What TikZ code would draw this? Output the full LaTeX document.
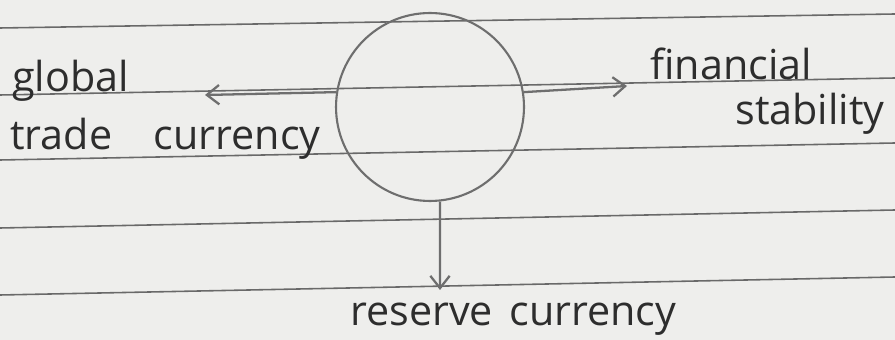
\documentclass[tikz,border=0pt]{standalone}
\usepackage{fontspec}
\setmainfont{Open Sans}
\usetikzlibrary{arrows.meta}
\definecolor{paper}{RGB}{238,238,236}
\definecolor{rule}{RGB}{105,105,105}
\definecolor{pencil}{RGB}{110,110,110}
\definecolor{ink}{RGB}{45,45,45}
\tikzset{
    word/.style={anchor=base west, text=ink, inner sep=0pt, font=\fontsize{23.5}{28}\selectfont},
    link/.style={->, pencil, line width=1.3pt}
}
\begin{document}
\begin{tikzpicture}[>={Straight Barb[length=7pt, width=11pt]}, x=0.02cm, y=-0.02cm]
    % Foglio
    \fill[paper] (0,0) rectangle (895,340);
    \useasboundingbox (0,0) rectangle (895,340);
    % Righe del quaderno
    \foreach \ya/\yb in {28/14, 95/78, 160/143, 228/210, 295/277}
        \draw[rule, line width=0.9pt] (0,\ya) -- (895,\yb);
    % Cerchio centrale
    \node[draw=pencil, line width=1.2pt, circle, minimum size=3.76cm] (hub) at (430,107) {};
    % Etichette
    \node[word] (global) at (12,92) {global};
    \node[word] (trade) at (10,150) {trade\hspace{1em}currency};
    \node[word] (financial) at (650,80) {financial};
    \node[word] (stability) at (735,125) {stability};
    \node[word] (reserve) at (350,326) {reserve\hspace{0.4em}currency};
    % Frecce in uscita
    \coordinate (lend) at (205,95);
    \coordinate (rend) at (627,86);
    \coordinate (dend) at (440,290);
    \draw[link] (hub.171) -- (lend);
    \draw[link] (hub.9) -- (rend);
    \draw[link] (hub.-84) -- (dend);
\end{tikzpicture}
\end{document}
